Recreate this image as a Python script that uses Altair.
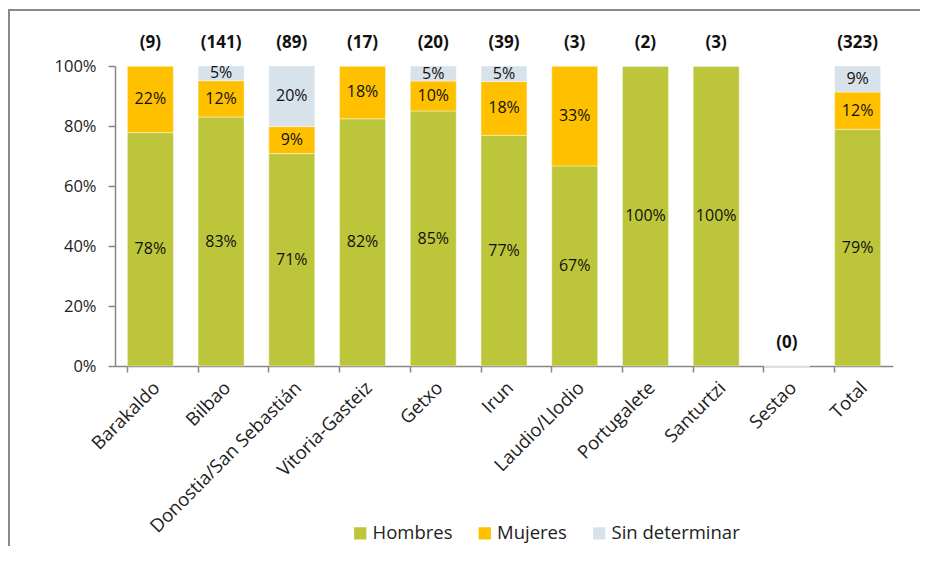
import altair as alt
import pandas as pd

ciudades = ["Barakaldo", "Bilbao", "Donostia/San Sebastián", "Vitoria-Gasteiz", "Getxo",
            "Irun", "Laudio/Llodio", "Portugalete", "Santurtzi", "Sestao", "Total"]
n_casos = [9, 141, 89, 17, 20, 39, 3, 2, 3, 0, 323]
hombres = [77.8, 83.0, 70.8, 82.4, 85.0, 76.9, 66.7, 100.0, 100.0, 0.0, 78.9]
mujeres = [22.2, 12.1, 9.0, 17.6, 10.0, 17.9, 33.3, 0.0, 0.0, 0.0, 12.4]
sin_det = [0.0, 4.9, 20.2, 0.0, 5.0, 5.2, 0.0, 0.0, 0.0, 0.0, 8.7]

series = ["Hombres", "Mujeres", "Sin determinar"]
colores = ["#BDC63A", "#FFC000", "#D8E2EB"]

rows = []
for i, c in enumerate(ciudades):
    for k, (s, vals) in enumerate(zip(series, [hombres, mujeres, sin_det])):
        rows.append({"ciudad": c, "serie": s, "orden": k, "valor": vals[i]})
df = pd.DataFrame(rows)

df_n = pd.DataFrame({
    "ciudad": ciudades,
    "etiqueta": [f"({n})" for n in n_casos],
    "tope": [100.0 if n > 0 else 0.0 for n in n_casos],
})

FONT = "Open Sans"

x_enc = alt.X("ciudad:N", sort=ciudades, title=None,
              scale=alt.Scale(paddingInner=0.35, paddingOuter=0.175),
              axis=alt.Axis(labelAngle=-45, labelAlign="right", labelBaseline="top",
                            labelPadding=6, labelFontSize=18.5, labelColor="#222222",
                            labelFont=FONT, bandPosition=0, tickSize=6,
                            tickColor="#868686", domainColor="#868686",
                            domainWidth=1.5, tickWidth=1.5, labelLimit=300))

y_scale = alt.Scale(domain=[0, 100], nice=False)

bars = alt.Chart(df).mark_bar(stroke="#ffffff", strokeWidth=0.4).encode(
    x=x_enc,
    y=alt.Y("valor:Q", stack="zero", scale=y_scale, title=None,
            axis=alt.Axis(values=[0, 20, 40, 60, 80, 100], labelExpr="datum.value + '%'",
                          grid=False, tickSize=7, labelPadding=12, labelFontSize=16.5,
                          labelColor="#222222", labelFont=FONT,
                          tickColor="#868686", domainColor="#868686",
                          domainWidth=1.5, tickWidth=1.5)),
    color=alt.Color("serie:N", scale=alt.Scale(domain=series, range=colores),
                    legend=alt.Legend(title=None, orient="none", direction="horizontal",
                                      legendX=236, legendY=458, symbolType="square",
                                      symbolSize=150, symbolStrokeWidth=0,
                                      labelFontSize=18.5, labelFont=FONT,
                                      labelColor="#222222", columnPadding=22.5,
                                      labelOffset=3)),
    order=alt.Order("orden:Q", sort="ascending"),
)

pct = alt.Chart(df).transform_stack(
    stack="valor", groupby=["ciudad"], sort=[alt.SortField("orden", "ascending")],
    as_=["y0", "y1"]
).transform_filter("datum.valor > 0").transform_calculate(
    ymid="(datum.y0 + datum.y1) / 2",
    txt="format(datum.valor, '.0f') + '%'"
).mark_text(fontSize=16, font=FONT, color="#111111", baseline="middle").encode(
    x=alt.X("ciudad:N", sort=ciudades),
    y=alt.Y("ymid:Q", scale=y_scale),
    text="txt:N",
)

counts = alt.Chart(df_n).mark_text(fontSize=17, font=FONT, fontWeight="bold",
                                    color="#111111", baseline="middle", dy=-23).encode(
    x=alt.X("ciudad:N", sort=ciudades),
    y=alt.Y("tope:Q", scale=y_scale),
    text="etiqueta:N",
)

frame_df = pd.DataFrame({"k": [0]})
frame_v = alt.Chart(frame_df).mark_rect(color="#8a8a8a").encode(
    x=alt.value(-107), x2=alt.value(-105), y=alt.value(-57), y2=alt.value(480))
frame_h = alt.Chart(frame_df).mark_rect(color="#8a8a8a").encode(
    x=alt.value(-107), x2=alt.value(805), y=alt.value(-57), y2=alt.value(-55))

chart = alt.layer(frame_v, frame_h, bars, pct, counts).properties(
    width=778, height=300,
    autosize=alt.AutoSizeParams(type="none"),
    padding={"left": 107, "top": 58, "right": 27, "bottom": 180},
).configure_view(stroke=None)

chart.save("out.html", embed_options={"renderer": "svg", "actions": False})
